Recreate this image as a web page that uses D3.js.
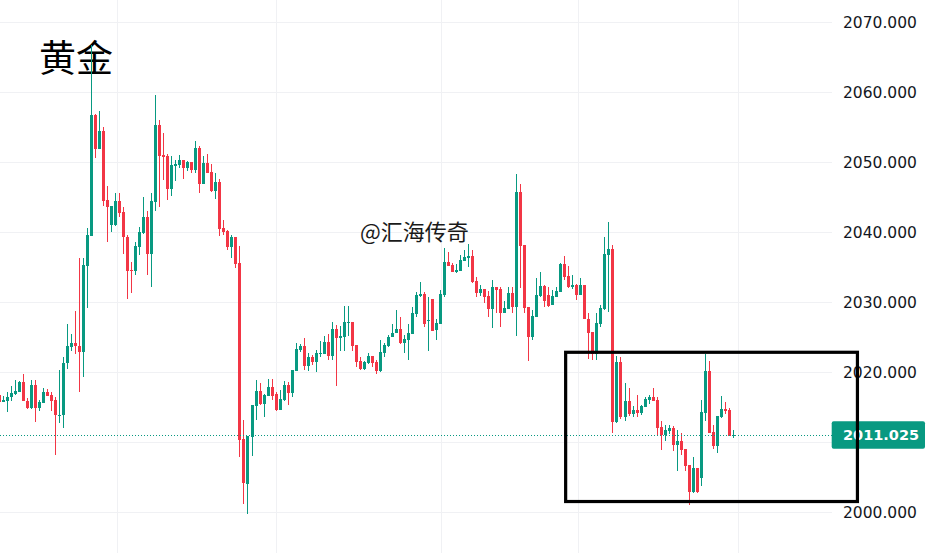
<!DOCTYPE html>
<html>
<head>
<meta charset="utf-8">
<script src="https://cdn.jsdelivr.net/npm/d3@7/dist/d3.min.js"></script>
<style>
html,body{margin:0;padding:0;background:#fff;}
svg{display:block;}
</style>
</head>
<body>
<svg id="chart" width="932" height="553"></svg>
<script>
const openV = [2016.8,2015.8,2015.95,2016.43,2016.9,2017.24,2018.62,2015.95,2014.95,2018.14,2014.95,2015.67,2017.14,2016.76,2016.05,2013.86,2013.86,2021.29,2023.67,2024.19,2023.81,2022.95,2035.24,2039.52,2056.76,2051.95,2054.48,2044.62,2041.05,2041.05,2044.48,2042.86,2039.29,2034.62,2034.52,2037.95,2039.86,2042.24,2036.9,2044.38,2055.33,2051.05,2050.9,2046.24,2049.48,2049.62,2050.33,2049.24,2050.05,2048.9,2052.05,2046.9,2049.9,2048.62,2045.9,2047.19,2040.62,2040.19,2037.95,2039.33,2035.67,2010.43,2004.05,2010.81,2015.19,2017.33,2015.48,2016.62,2017.9,2016.9,2014.62,2016.05,2018.19,2017.05,2020.19,2023.19,2023.76,2020.9,2022.19,2021.48,2022.67,2022.67,2024.33,2022.33,2026.19,2024.9,2025.05,2027.1,2027.19,2023.9,2021.62,2020.43,2021.38,2022.33,2021.52,2020.19,2022.81,2023.81,2025.1,2025.57,2026.14,2024.14,2024.62,2025.43,2028.29,2030.9,2031.14,2027.29,2030.48,2026.05,2026.9,2031.05,2035.81,2035.33,2034.38,2034.48,2035.95,2036.38,2036.67,2033.1,2031.38,2031.9,2030.9,2029.05,2032.19,2031.9,2028.52,2029.05,2031.33,2029.38,2045.81,2038.19,2029.33,2025.1,2027.95,2030.9,2032.33,2031.05,2029.62,2030.81,2031.52,2035.48,2033.76,2032.19,2032.48,2031.1,2032.48,2027.62,2025.76,2022.62,2026.9,2029.05,2036.76,2037.62,2012.95,2021.48,2013.57,2015.9,2014.05,2014.62,2014.14,2015.1,2016.05,2016.48,2016.05,2012.19,2011.0,2011.67,2012.05,2009.62,2010.19,2009.05,2006.76,2002.9,2006.33,2004.95,2014.19,2020.19,2011.48,2009.48,2013.62,2014.76,2014.62,2010.9];
const highV = [2017.0,2016.6,2017.14,2018.05,2018.9,2018.76,2019.76,2016.33,2018.9,2018.9,2016.05,2017.81,2017.62,2017.24,2016.52,2020.33,2022.24,2026.86,2025.48,2028.76,2036.29,2036.29,2040.57,2066.8,2056.9,2057.33,2055.1,2046.62,2043.76,2045.57,2045.57,2043.67,2039.62,2035.81,2038.57,2040.81,2045.1,2043.05,2045.57,2059.62,2056.05,2054.24,2051.19,2050.9,2050.33,2051.05,2050.33,2050.24,2050.05,2053.05,2052.33,2050.9,2051.19,2049.76,2048.48,2047.62,2041.76,2040.33,2039.62,2039.33,2038.0,2013.19,2010.9,2015.33,2018.9,2018.43,2016.9,2019.05,2019.05,2017.19,2017.48,2018.76,2018.62,2020.33,2024.19,2024.05,2024.9,2022.76,2022.48,2023.19,2024.48,2025.19,2025.48,2027.19,2026.76,2026.62,2029.48,2029.48,2027.19,2023.9,2022.24,2021.62,2022.71,2022.33,2021.76,2024.62,2024.14,2025.33,2026.86,2028.9,2027.86,2025.33,2026.86,2029.38,2031.52,2032.86,2031.52,2030.81,2030.48,2027.57,2031.76,2037.81,2037.24,2035.67,2035.43,2036.76,2037.48,2038.33,2037.48,2033.67,2032.48,2031.9,2031.62,2033.19,2032.19,2032.19,2030.24,2032.19,2032.19,2048.33,2046.9,2038.19,2029.33,2028.9,2033.48,2034.33,2032.48,2032.19,2031.76,2032.19,2035.62,2036.62,2035.19,2033.9,2032.62,2033.48,2032.48,2028.52,2025.76,2028.43,2029.62,2039.29,2041.43,2038.19,2022.33,2022.24,2018.43,2017.71,2015.19,2016.76,2015.33,2016.52,2016.76,2017.76,2016.43,2013.05,2012.48,2012.48,2012.33,2011.76,2011.29,2009.05,2006.76,2007.9,2006.33,2016.05,2022.62,2021.62,2012.48,2013.76,2016.62,2015.76,2014.9,2011.76];
const lowV = [2015.6,2015.8,2014.38,2015.95,2016.76,2017.24,2015.95,2014.76,2014.71,2012.95,2014.48,2015.57,2016.62,2014.52,2008.19,2012.71,2012.1,2020.52,2023.1,2022.57,2017.24,2019.38,2029.24,2039.5,2050.67,2051.95,2043.81,2038.67,2040.0,2040.95,2042.24,2036.86,2030.52,2031.38,2033.9,2036.76,2039.76,2033.9,2032.24,2043.1,2043.67,2047.48,2044.62,2045.19,2047.38,2049.14,2047.62,2048.81,2048.52,2048.52,2045.62,2046.9,2048.43,2045.76,2044.76,2039.48,2039.62,2037.48,2036.38,2034.95,2007.95,2001.19,1999.76,2008.05,2013.19,2015.33,2013.67,2016.62,2016.05,2014.48,2014.62,2015.9,2015.33,2016.48,2020.19,2022.9,2020.33,2020.19,2021.05,2020.05,2022.19,2022.62,2021.76,2021.76,2018.05,2023.05,2023.05,2025.19,2023.05,2020.76,2020.33,2020.33,2021.19,2020.81,2019.71,2020.1,2022.24,2023.67,2025.0,2025.57,2024.0,2022.71,2021.76,2025.43,2027.95,2030.81,2026.52,2023.1,2025.9,2024.62,2026.9,2030.81,2035.19,2034.38,2034.14,2034.48,2035.95,2035.0,2032.71,2030.71,2030.9,2029.95,2027.95,2026.38,2028.43,2026.52,2028.43,2029.05,2028.52,2025.24,2032.1,2028.52,2021.67,2024.62,2027.95,2030.71,2029.38,2029.38,2029.62,2030.81,2031.52,2033.19,2032.05,2031.9,2030.33,2031.05,2027.62,2021.9,2021.76,2021.76,2026.52,2028.9,2028.67,2011.38,2012.71,2013.29,2013.1,2013.76,2013.57,2013.67,2013.9,2015.0,2015.48,2015.9,2010.9,2008.9,2010.19,2011.19,2008.76,2005.9,2008.19,2005.9,2001.05,2002.76,2002.76,2003.76,2013.05,2011.33,2009.05,2008.48,2013.48,2014.05,2010.9,2010.62];
const closeV = [2015.8,2016.05,2016.43,2017.0,2017.33,2018.62,2015.95,2014.95,2018.14,2014.95,2015.76,2017.14,2016.67,2015.95,2013.86,2013.95,2021.29,2023.76,2024.19,2023.81,2022.95,2035.33,2039.62,2056.76,2051.95,2054.48,2044.52,2043.67,2043.76,2044.48,2042.81,2039.38,2034.52,2034.52,2038.05,2040.05,2042.24,2036.9,2044.48,2055.33,2050.9,2050.76,2046.24,2049.62,2049.76,2050.33,2049.24,2050.05,2048.9,2052.05,2046.9,2049.9,2048.48,2045.9,2047.19,2040.48,2040.05,2037.95,2039.33,2035.48,2010.33,2004.14,2010.9,2015.33,2017.33,2015.48,2016.76,2017.9,2016.62,2014.62,2016.19,2018.19,2017.05,2020.33,2023.33,2023.76,2020.9,2022.19,2021.48,2022.76,2022.76,2024.33,2022.33,2026.19,2024.9,2025.19,2027.19,2027.19,2023.76,2021.48,2020.43,2021.52,2022.33,2021.38,2020.19,2022.86,2023.9,2025.1,2025.67,2026.19,2024.14,2024.71,2025.57,2028.43,2031.05,2031.14,2026.86,2027.48,2025.95,2027.1,2031.19,2035.81,2035.19,2034.38,2034.62,2036.05,2036.52,2036.67,2032.95,2031.38,2031.9,2030.81,2029.05,2032.19,2031.76,2028.52,2029.19,2031.33,2029.38,2045.81,2038.05,2029.19,2025.1,2028.05,2031.05,2032.33,2030.19,2029.52,2030.9,2031.62,2035.48,2033.62,2032.19,2032.48,2031.1,2032.48,2027.62,2025.67,2022.62,2027.05,2029.19,2036.9,2037.62,2012.95,2021.48,2013.57,2015.9,2014.05,2014.62,2014.14,2015.19,2016.19,2016.48,2015.9,2012.05,2011.0,2011.76,2012.05,2009.62,2010.19,2008.9,2006.62,2002.9,2006.33,2002.9,2014.33,2020.19,2011.33,2009.48,2013.76,2014.76,2014.48,2010.9,2011.025];

const yTicks = [2000, 2010, 2020, 2030, 2040, 2050, 2060, 2070];
const yLabelTicks = [2000, 2020, 2030, 2040, 2050, 2060, 2070];
const timeGridIdx = [29.3, 69.1, 110.2, 144.4, 184.1];
const lastPrice = 2011.025;
const titleText = "黄金";
const watermarkText = "@汇海传奇";
const boxStart = 141.2, boxEnd = 213.95;   // candle-index span of the highlight box
const boxTop = 2022.86, boxBottom = 2001.54;   // price span of the highlight box

const W = 932, H = 553, plotRight = 832;
const UP = "#089981", DOWN = "#F23645";
const svg = d3.select("#chart");

const y = d3.scaleLinear().domain([2000, 2070]).range([512.3, 22.3]);
const x = d3.scaleLinear().domain([0, openV.length - 1]).range([-0.67, 733.3]);

const data = openV.map((o, i) => ({i, o, h: highV[i], l: lowV[i], c: closeV[i]}));

// grid
const grid = svg.append("g");
grid.selectAll("line.h").data(yTicks).join("line")
  .attr("x1", 0).attr("x2", plotRight)
  .attr("y1", d => Math.round(y(d)) + 0.5).attr("y2", d => Math.round(y(d)) + 0.5)
  .attr("stroke", "#f0f1f4").attr("stroke-width", 1);
grid.selectAll("line.v").data(timeGridIdx).join("line")
  .attr("x1", d => Math.round(x(d)) + 0.5).attr("x2", d => Math.round(x(d)) + 0.5)
  .attr("y1", 0).attr("y2", H)
  .attr("stroke", "#f0f1f4").attr("stroke-width", 1);

// title & watermark
svg.append("text").text(titleText)
  .attr("x", 39).attr("y", 72)
  .attr("font-family", "'Noto Sans CJK SC', sans-serif")
  .attr("font-size", 37).attr("fill", "#000");
svg.append("text").text(watermarkText)
  .attr("x", 360).attr("y", 240)
  .attr("font-family", "'Noto Sans CJK SC', sans-serif")
  .attr("font-size", 22).attr("fill", "#1a1a1a");

// candles
const cg = svg.append("g");
const bodyW = 3;
data.forEach(d => {
  const cx = x(d.i);
  const left = Math.round(cx - 1.5);
  const col = d.c >= d.o ? UP : DOWN;
  const yh = Math.round(y(d.h)), yl = Math.round(y(d.l));
  cg.append("rect").attr("x", left + 1).attr("width", 1)
    .attr("y", yh).attr("height", Math.max(1, yl - yh)).attr("fill", col);
  const yt = Math.round(y(Math.max(d.o, d.c))), yb = Math.round(y(Math.min(d.o, d.c)));
  cg.append("rect").attr("x", left).attr("width", bodyW)
    .attr("y", yt).attr("height", Math.max(1, yb - yt)).attr("fill", col);
});

// last price line
svg.append("line")
  .attr("x1", 0).attr("x2", plotRight)
  .attr("y1", Math.round(y(lastPrice)) + 0.5).attr("y2", Math.round(y(lastPrice)) + 0.5)
  .attr("stroke", UP).attr("stroke-width", 1).attr("stroke-dasharray", "1,2");

// right axis
const axis = d3.axisRight(y).tickValues(yLabelTicks).tickFormat(d3.format(".3f"))
  .tickSize(0).tickPadding(11);
const ag = svg.append("g").attr("transform", `translate(${plotRight},0)`).call(axis);
ag.select(".domain").remove();
ag.selectAll("text").attr("font-family", "'DejaVu Sans', sans-serif")
  .attr("font-size", 15.5).attr("fill", "#131722");

// price label
const ly = y(lastPrice);
svg.append("rect").attr("x", 831.7).attr("y", ly - 14).attr("width", 93.3).attr("height", 27.6)
  .attr("rx", 2).attr("fill", UP);
svg.append("text").text(d3.format(".3f")(lastPrice))
  .attr("x", 843).attr("y", ly).attr("dy", "0.36em")
  .attr("font-family", "'DejaVu Sans', sans-serif").attr("font-weight", "bold")
  .attr("font-size", 14.5).attr("fill", "#fff");

// highlight box
svg.append("rect")
  .attr("x", x(boxStart)).attr("y", y(boxTop))
  .attr("width", x(boxEnd) - x(boxStart)).attr("height", y(boxBottom) - y(boxTop))
  .attr("fill", "none").attr("stroke", "#000").attr("stroke-width", 3.2);
</script>
</body>
</html>
